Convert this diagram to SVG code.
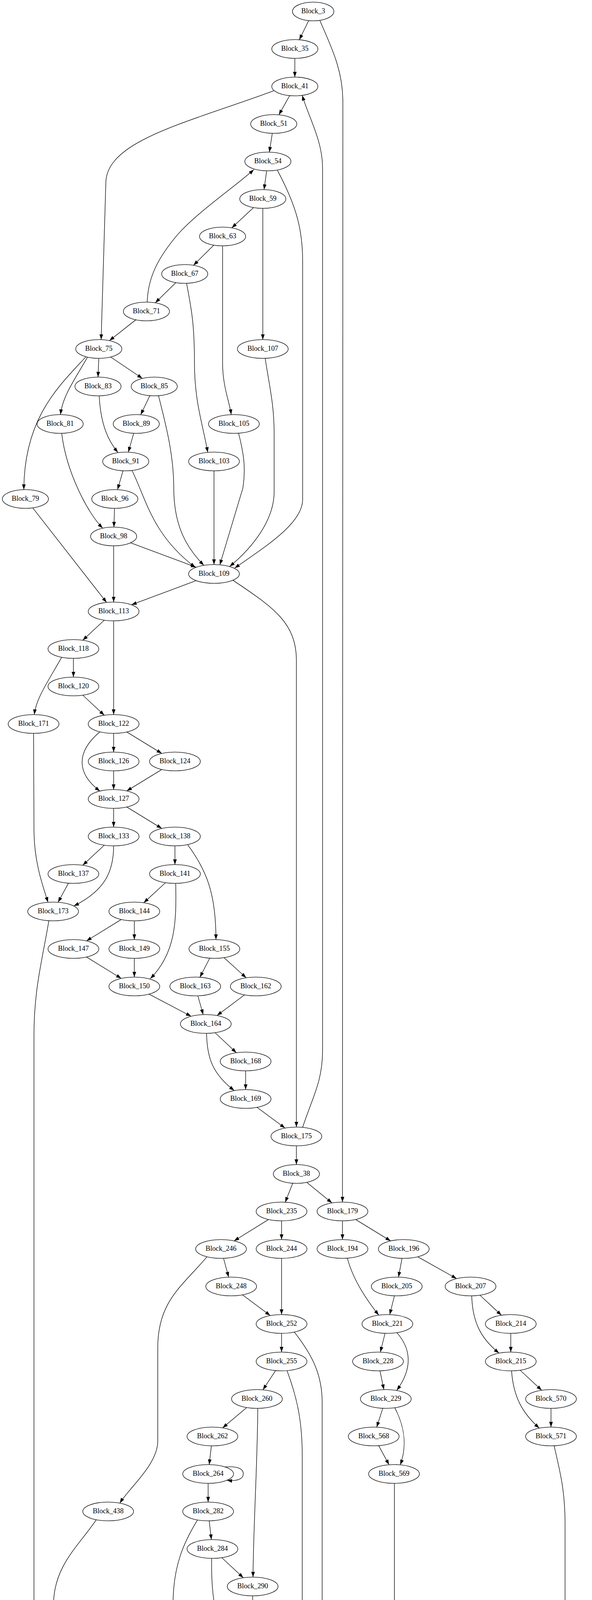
<svg xmlns="http://www.w3.org/2000/svg" width="1516" height="6809" viewBox="0 0 1516 6809">
<style>
.e path{fill:none;stroke:#000;stroke-width:1.33;marker-end:url(#ah)}
.n ellipse{fill:#fff;stroke:#000;stroke-width:1.33}
text{font-family:"Liberation Serif","Times New Roman",serif;font-size:18px;text-anchor:middle;fill:#000}
</style>
<defs>
<marker id="ah" markerUnits="userSpaceOnUse" markerWidth="14" markerHeight="10" refX="13.3" refY="4.67" orient="auto"><path d="M0,0 L13.3,4.67 L0,9.33 z" fill="#000"/></marker>
</defs>
<rect width="1516" height="6809" fill="#fff"/>
<g transform="translate(0,29.33)">
<g id="edges" class="e">
<path d="M790.5,23.4 L766.5,72.5"/>
<path d="M819,23 C848,90 878,150 878,230 L877,3048"/>
<path d="M755,120 L755,168"/>
<path d="M741.8,215.4 L714.2,264.6"/>
<path d="M701,203 C480,285 271,330 271,440 L259,840"/>
<path d="M697.3,312 L689.7,360"/>
<path d="M682.8,408 L676.2,456"/>
<path d="M710.6,407 C760,500 775,560 775,640 L775,1250 C775,1310 680,1370 601,1425"/>
<path d="M649.4,502 L593.6,554"/>
<path d="M673,504 L673,840"/>
<path d="M547.6,598.2 L495.4,649.8"/>
<path d="M570,600 L570,900 C570,960 588,1000 592,1032"/>
<path d="M450.4,694.2 L397.6,745.8"/>
<path d="M477.6,695 C490,760 498,800 498,900 C498,1000 520,1060 532,1128.7"/>
<path d="M377,744 C379,680 405,630 455,571 C510,510 600,450 650,405"/>
<path d="M347.9,789.3 L280.1,842.7"/>
<path d="M253,888 L251,936"/>
<path d="M283.4,884.6 L364.6,939.4"/>
<path d="M224,885 C190,945 160,985 155,1032"/>
<path d="M220,884 C150,960 62,1040 61,1224"/>
<path d="M254,984 C258,1060 278,1100 302,1129"/>
<path d="M383.7,983.6 L360.3,1032.4"/>
<path d="M406,984 C428,1070 445,1140 445,1220 C445,1320 480,1375 522,1418"/>
<path d="M342.3,1080 L328.7,1128"/>
<path d="M158,1080 C170,1180 225,1285 263,1322.7"/>
<path d="M315,1176 L301,1224"/>
<path d="M338,1175 C375,1250 390,1340 500,1423"/>
<path d="M548,1176 L548,1416"/>
<path d="M611,1080 C624,1130 630,1170 622,1220 L563,1416.6"/>
<path d="M679,888 C692,970 702,1010 702,1080 L702,1230 C702,1300 650,1370 588,1421"/>
<path d="M84,1271 L273,1513"/>
<path d="M293.3,1272 L291.7,1320"/>
<path d="M334.5,1360.2 L502.3,1422.9"/>
<path d="M291,1368 L291,1512"/>
<path d="M502.3,1457.1 L336.7,1518.9"/>
<path d="M596.5,1456 C690,1520 759,1560 759,1660 L759,2856"/>
<path d="M267.1,1558.3 L211.9,1609.7"/>
<path d="M291,1560 L291,1800"/>
<path d="M188,1656 L188,1704"/>
<path d="M158,1653.3 C120,1720 92,1760 88,1800"/>
<path d="M211.9,1750.3 L267.1,1801.7"/>
<path d="M291,1848 L291,1896"/>
<path d="M324.6,1844.5 L414.4,1899.5"/>
<path d="M256,1844 C195,1895 195,1950 256,1996"/>
<path d="M291,1944 L291,1992"/>
<path d="M414.4,1940.5 L324.6,1995.5"/>
<path d="M291,2040 L291,2088"/>
<path d="M324.6,2036.5 L414.4,2091.5"/>
<path d="M86,1848 L87,2100 C88,2180 110,2240 123,2280.5"/>
<path d="M267.1,2134.3 L211.9,2185.7"/>
<path d="M291,2136 C291,2200 270,2250 189,2290"/>
<path d="M448,2136 L448,2184"/>
<path d="M480.5,2133 C530,2200 553,2260 553,2376"/>
<path d="M175.3,2231.5 L148.7,2280.5"/>
<path d="M423.9,2230.3 L368.1,2281.7"/>
<path d="M450,2232 C452,2330 450,2410 385,2476"/>
<path d="M125,2328 C110,2420 87,2500 87,2620 L87,6330 C87,6440 180,6480 288,6514"/>
<path d="M310.6,2324.6 L221.4,2379.4"/>
<path d="M344,2328 L344,2376"/>
<path d="M221.4,2420.6 L310.6,2475.4"/>
<path d="M344,2424 L344,2472"/>
<path d="M537,2423.6 L512,2472.4"/>
<path d="M573.5,2422.2 L630.5,2473.8"/>
<path d="M381.4,2515.6 L489.6,2572.4"/>
<path d="M506.7,2520 L520.3,2568"/>
<path d="M626.3,2517.5 L555.7,2570.5"/>
<path d="M550.7,2614.3 L605.3,2665.7"/>
<path d="M529,2616 C530,2680 545,2720 600,2762.6"/>
<path d="M629,2712 L629,2760"/>
<path d="M658.1,2805.5 L729.9,2858.5"/>
<path d="M759,2904 L759,2952"/>
<path d="M775,2856.7 C800,2780 826,2740 826,2660 L826,400 C826,330 790,270 774,214.8"/>
<path d="M749.6,2999.7 L730.4,3048.3"/>
<path d="M785.4,2997.5 L850.1,3050.1"/>
<path d="M687.7,3092.6 L599.3,3147.4"/>
<path d="M721,3096 L721,3144"/>
<path d="M877,3096 L877,3144"/>
<path d="M910.6,3092.5 L1000.4,3147.5"/>
<path d="M572.5,3192 L585.5,3240"/>
<path d="M530,3188 C470,3260 404,3300 404,3420 L404,3660 C404,3720 330,3780 307,3818.7"/>
<path d="M721,3192 L721,3336"/>
<path d="M889.5,3191.5 C905,3250 940,3300 970,3337.4"/>
<path d="M1029.5,3192 L1020.5,3240"/>
<path d="M1069.7,3188.1 L1169.3,3243.9"/>
<path d="M620.9,3285.5 L692.1,3338.5"/>
<path d="M1010,3288 L998,3336"/>
<path d="M1228.9,3286.3 L1284.1,3337.7"/>
<path d="M1208,3288 C1210,3360 1235,3400 1278,3434.7"/>
<path d="M721,3384 L721,3432"/>
<path d="M754,3381 C800,3440 825,3490 825,3560 L825,4120 C825,4200 790,4250 757,4297.4"/>
<path d="M705.7,3479.3 L673.3,3528.7"/>
<path d="M735,3479.4 C765,3560 774,3620 774,3700 L774,4200 C774,4240 760,4270 750,4296.6"/>
<path d="M986,3384 L974,3432"/>
<path d="M1016,3382 C1050,3420 1060,3470 1016,3530"/>
<path d="M1308,3384 L1308,3432"/>
<path d="M973,3480 L983,3528"/>
<path d="M1331.9,3478.3 L1387.1,3529.7"/>
<path d="M1310,3480 C1315,3550 1340,3590 1381,3626.7"/>
<path d="M631.9,3574 L570.1,3626"/>
<path d="M660,3576 C660,3700 648,3900 648,4008"/>
<path d="M980.3,3575.8 L964.7,3624.2"/>
<path d="M1011,3574.5 C1040,3630 1040,3680 1025,3720.7"/>
<path d="M1411,3576 L1411,3624"/>
<path d="M1419,3672 C1435,3740 1447,3790 1447,3870 L1447,6260 C1447,6330 1420,6370 1407,6408.6"/>
<path d="M541.3,3672 L535.7,3720"/>
<path d="M969.7,3671.5 L996.3,3720.5"/>
<path d="M576,3726 C603,3724 623,3728 623,3744 C623,3758 605,3763 581,3760.2"/>
<path d="M533,3768 L533,3816"/>
<path d="M1010,3768 L1010,4920 C1010,5200 984,5900 984,6170 L984,6300 C984,6440 880,6480 405,6522"/>
<path d="M246.5,3861.2 C200,3930 137,3980 137,4080 L137,6230 C137,6320 230,6380 292,6416.2"/>
<path d="M535.7,3864 L541.3,3912"/>
<path d="M505.6,3862 C470,3920 443,3980 443,4080 L443,4540 C443,4610 510,4650 559,4684"/>
<path d="M567.9,3958.3 L623.1,4009.7"/>
<path d="M542,3960 C540,4090 560,4140 600,4190 C640,4235 690,4270 711,4297.8"/>
<path d="M647,4056 L647,4104"/>
<path d="M690,4110 C717,4108 737,4112 737,4128 C737,4142 719,4147 695,4144.2"/>
<path d="M623.1,4150.3 L567.9,4201.7"/>
<path d="M582.5,4243.4 L696.5,4300.6"/>
<path d="M545,4248 L545,4520 C545,4600 565,4640 578,4681"/>
<path d="M719.9,4343.3 L688.1,4392.7"/>
<path d="M754,4343 C780,4400 790,4440 730,4494.3"/>
<path d="M716,4398 C743,4396 763,4400 763,4416 C763,4430 745,4435 721,4432.2"/>
<path d="M676.2,4440 L682.8,4488"/>
<path d="M688.7,4536 L694.3,4584"/>
<path d="M660,4534 C625,4600 600,4620 598,4680"/>
<path d="M740,4590 C767,4588 788,4592 788,4608 C788,4622 769,4627 745,4624.2"/>
<path d="M673.3,4630.3 L618.7,4681.7"/>
<path d="M595,4728 L595,4776"/>
<path d="M624,4725.5 C650,4760 720,4830 737,4872.5"/>
<path d="M595,4824 L595,4872"/>
<path d="M563,4821 C530,4870 500,4910 497,4968"/>
<path d="M571.7,4918.4 L518.3,4969.6"/>
<path d="M628.3,4916.6 L716.7,4971.4"/>
<path d="M750,4920 L750,4968"/>
<path d="M461.9,5012.6 L374.1,5067.4"/>
<path d="M495,5016 L497,5064"/>
<path d="M750,5016 L750,5064"/>
<path d="M783.4,5012.6 L872.6,5067.4"/>
<path d="M341,5112 L341,5256"/>
<path d="M484,5111.5 L457,5160.5"/>
<path d="M507.6,5111.7 C520,5160 535,5200 541,5256.3"/>
<path d="M756,5112 C762,5170 775,5210 793,5256.4"/>
<path d="M893.5,5111.5 L867.5,5160.5"/>
<path d="M918.5,5111.6 C935,5180 940,5240 938,5290 C936,5360 920,5410 914,5448.2"/>
<path d="M420.1,5206.3 L364.9,5257.7"/>
<path d="M842.5,5207.5 L816.5,5256.5"/>
<path d="M317.3,5302.3 L262.7,5353.7"/>
<path d="M341,5304 L341,5448"/>
<path d="M364.9,5302.3 L420.1,5353.7"/>
<path d="M548,5304 L548,5990 C548,6060 520,6100 483,6125"/>
<path d="M770.7,5300.6 L682.3,5355.4"/>
<path d="M804,5304 L804,5352"/>
<path d="M839,5300.2 C900,5360 900,5420 806,5459.8"/>
<path d="M262.7,5398.3 L317.3,5449.7"/>
<path d="M420.1,5398.3 L364.9,5449.7"/>
<path d="M672.5,5398.3 L726.5,5449.7"/>
<path d="M790.8,5399.4 L763.2,5448.6"/>
<path d="M328,5495.5 L301,5544.5"/>
<path d="M364.9,5494.3 L420.1,5545.7"/>
<path d="M726.5,5494.3 L672.5,5545.7"/>
<path d="M763.2,5495.4 L790.8,5544.6"/>
<path d="M907,5496 L907,5930 C907,6020 820,6080 759,6127"/>
<path d="M298,5591.7 L360,5736.8"/>
<path d="M437.3,5592 L423.7,5640"/>
<path d="M503,5578.2 C700,5605 900,5630 1025,5657"/>
<path d="M660,5591.7 L715.5,5736.4"/>
<path d="M800.8,5592 L794.2,5640"/>
<path d="M865,5576.3 C960,5595 1100,5620 1189,5650"/>
<path d="M406.9,5687.7 L386.1,5736.3"/>
<path d="M775.7,5687.3 L743.3,5736.7"/>
<path d="M1099.3,5687.6 L1124.7,5736.4"/>
<path d="M1073,5687.5 C1055,5740 1055,5790 1103,5835.5"/>
<path d="M1265.5,5686.3 L1319.5,5737.7"/>
<path d="M1245,5688 C1248,5760 1265,5800 1296,5833.6"/>
<path d="M390.8,5783.4 L422.2,5832.6"/>
<path d="M365.5,5783.7 C352,5840 355,5890 401,5930.7"/>
<path d="M740.3,5783.6 L765.7,5832.4"/>
<path d="M715.5,5783.7 C703,5840 703,5880 711,5928.3"/>
<path d="M1137,5784 L1137,5832"/>
<path d="M1337,5784 L1325,5832"/>
<path d="M435.5,5880 L432.5,5928"/>
<path d="M763.9,5879.4 L734.1,5928.6"/>
<path d="M1137,5880 L1137,5928"/>
<path d="M1104,5876.7 C1070,5930 1060,5980 1093,6026.8"/>
<path d="M1325,5880 L1337,5928"/>
<path d="M1294,5878 C1265,5930 1262,5980 1271.4,6024.2"/>
<path d="M434.2,5976 L440.8,6024"/>
<path d="M403,5973.7 C365,6030 360,6080 411,6123.3"/>
<path d="M706.1,5975.4 L676.9,6024.6"/>
<path d="M730,5975.7 C745,6030 745,6080 728,6120.6"/>
<path d="M1133.5,5976 L1126.5,6024"/>
<path d="M1327.5,5975.3 L1294.5,6024.7"/>
<path d="M444,6072 L444,6120"/>
<path d="M675.3,6071.6 L700.7,6120.4"/>
<path d="M1154.5,6069 L1235.5,6123"/>
<path d="M1276,6072 L1270,6120"/>
<path d="M444,6168 L444,6216"/>
<path d="M666.3,6160.7 L490.7,6223.3"/>
<path d="M1285.2,6167 L1324.8,6217"/>
<path d="M1262,6167.5 C1252,6230 1262,6280 1310,6315.3"/>
<path d="M444,6264 L444,6312"/>
<path d="M413,6261 C375,6310 345,6350 343,6408"/>
<path d="M1343,6264 L1343,6312"/>
<path d="M420.1,6358.3 L364.9,6409.7"/>
<path d="M1355.3,6359.6 L1380.7,6408.4"/>
<path d="M341,6456 L341,6504"/>
<path d="M1405.5,6455.5 L1431.5,6504.5"/>
<path d="M1383,6455.7 C1362,6510 1365,6560 1381,6600.4"/>
<path d="M353.7,6551.5 L380.3,6600.5"/>
<path d="M331,6551.7 C315,6600 315,6650 331,6696.3"/>
<path d="M1431.3,6551.5 L1404.7,6600.5"/>
<path d="M380.3,6647.5 L353.7,6696.5"/>
</g>
<g class="n">
<g id="Block_3"><ellipse cx="802" cy="0" rx="53" ry="24"/><text x="802" y="5">Block_3</text></g>
<g id="Block_35"><ellipse cx="755" cy="96" rx="59" ry="24"/><text x="755" y="101">Block_35</text></g>
<g id="Block_41"><ellipse cx="755" cy="192" rx="59" ry="24"/><text x="755" y="197">Block_41</text></g>
<g id="Block_51"><ellipse cx="701" cy="288" rx="59" ry="24"/><text x="701" y="293">Block_51</text></g>
<g id="Block_54"><ellipse cx="686" cy="384" rx="59" ry="24"/><text x="686" y="389">Block_54</text></g>
<g id="Block_59"><ellipse cx="673" cy="480" rx="59" ry="24"/><text x="673" y="485">Block_59</text></g>
<g id="Block_63"><ellipse cx="570" cy="576" rx="59" ry="24"/><text x="570" y="581">Block_63</text></g>
<g id="Block_67"><ellipse cx="473" cy="672" rx="59" ry="24"/><text x="473" y="677">Block_67</text></g>
<g id="Block_71"><ellipse cx="375" cy="768" rx="59" ry="24"/><text x="375" y="773">Block_71</text></g>
<g id="Block_75"><ellipse cx="253" cy="864" rx="59" ry="24"/><text x="253" y="869">Block_75</text></g>
<g id="Block_107"><ellipse cx="673" cy="864" rx="65" ry="24"/><text x="673" y="869">Block_107</text></g>
<g id="Block_83"><ellipse cx="251" cy="960" rx="59" ry="24"/><text x="251" y="965">Block_83</text></g>
<g id="Block_85"><ellipse cx="395" cy="960" rx="59" ry="24"/><text x="395" y="965">Block_85</text></g>
<g id="Block_81"><ellipse cx="154" cy="1056" rx="59" ry="24"/><text x="154" y="1061">Block_81</text></g>
<g id="Block_89"><ellipse cx="349" cy="1056" rx="59" ry="24"/><text x="349" y="1061">Block_89</text></g>
<g id="Block_105"><ellipse cx="599" cy="1056" rx="65" ry="24"/><text x="599" y="1061">Block_105</text></g>
<g id="Block_91"><ellipse cx="322" cy="1152" rx="59" ry="24"/><text x="322" y="1157">Block_91</text></g>
<g id="Block_103"><ellipse cx="548" cy="1152" rx="65" ry="24"/><text x="548" y="1157">Block_103</text></g>
<g id="Block_79"><ellipse cx="65" cy="1248" rx="59" ry="24"/><text x="65" y="1253">Block_79</text></g>
<g id="Block_96"><ellipse cx="294" cy="1248" rx="59" ry="24"/><text x="294" y="1253">Block_96</text></g>
<g id="Block_98"><ellipse cx="291" cy="1344" rx="59" ry="24"/><text x="291" y="1349">Block_98</text></g>
<g id="Block_109"><ellipse cx="548" cy="1440" rx="65" ry="24"/><text x="548" y="1445">Block_109</text></g>
<g id="Block_113"><ellipse cx="291" cy="1536" rx="65" ry="24"/><text x="291" y="1541">Block_113</text></g>
<g id="Block_118"><ellipse cx="188" cy="1632" rx="65" ry="24"/><text x="188" y="1637">Block_118</text></g>
<g id="Block_120"><ellipse cx="188" cy="1728" rx="65" ry="24"/><text x="188" y="1733">Block_120</text></g>
<g id="Block_171"><ellipse cx="86" cy="1824" rx="65" ry="24"/><text x="86" y="1829">Block_171</text></g>
<g id="Block_122"><ellipse cx="291" cy="1824" rx="65" ry="24"/><text x="291" y="1829">Block_122</text></g>
<g id="Block_126"><ellipse cx="291" cy="1920" rx="65" ry="24"/><text x="291" y="1925">Block_126</text></g>
<g id="Block_124"><ellipse cx="448" cy="1920" rx="65" ry="24"/><text x="448" y="1925">Block_124</text></g>
<g id="Block_127"><ellipse cx="291" cy="2016" rx="65" ry="24"/><text x="291" y="2021">Block_127</text></g>
<g id="Block_133"><ellipse cx="291" cy="2112" rx="65" ry="24"/><text x="291" y="2117">Block_133</text></g>
<g id="Block_138"><ellipse cx="448" cy="2112" rx="65" ry="24"/><text x="448" y="2117">Block_138</text></g>
<g id="Block_137"><ellipse cx="188" cy="2208" rx="65" ry="24"/><text x="188" y="2213">Block_137</text></g>
<g id="Block_141"><ellipse cx="448" cy="2208" rx="65" ry="24"/><text x="448" y="2213">Block_141</text></g>
<g id="Block_173"><ellipse cx="136" cy="2304" rx="65" ry="24"/><text x="136" y="2309">Block_173</text></g>
<g id="Block_144"><ellipse cx="344" cy="2304" rx="65" ry="24"/><text x="344" y="2309">Block_144</text></g>
<g id="Block_147"><ellipse cx="188" cy="2400" rx="65" ry="24"/><text x="188" y="2405">Block_147</text></g>
<g id="Block_149"><ellipse cx="344" cy="2400" rx="65" ry="24"/><text x="344" y="2405">Block_149</text></g>
<g id="Block_155"><ellipse cx="549" cy="2400" rx="65" ry="24"/><text x="549" y="2405">Block_155</text></g>
<g id="Block_150"><ellipse cx="344" cy="2496" rx="65" ry="24"/><text x="344" y="2501">Block_150</text></g>
<g id="Block_163"><ellipse cx="500" cy="2496" rx="65" ry="24"/><text x="500" y="2501">Block_163</text></g>
<g id="Block_162"><ellipse cx="655" cy="2496" rx="65" ry="24"/><text x="655" y="2501">Block_162</text></g>
<g id="Block_164"><ellipse cx="527" cy="2592" rx="65" ry="24"/><text x="527" y="2597">Block_164</text></g>
<g id="Block_168"><ellipse cx="629" cy="2688" rx="65" ry="24"/><text x="629" y="2693">Block_168</text></g>
<g id="Block_169"><ellipse cx="629" cy="2784" rx="65" ry="24"/><text x="629" y="2789">Block_169</text></g>
<g id="Block_175"><ellipse cx="759" cy="2880" rx="65" ry="24"/><text x="759" y="2885">Block_175</text></g>
<g id="Block_38"><ellipse cx="759" cy="2976" rx="59" ry="24"/><text x="759" y="2981">Block_38</text></g>
<g id="Block_235"><ellipse cx="721" cy="3072" rx="65" ry="24"/><text x="721" y="3077">Block_235</text></g>
<g id="Block_179"><ellipse cx="877" cy="3072" rx="65" ry="24"/><text x="877" y="3077">Block_179</text></g>
<g id="Block_246"><ellipse cx="566" cy="3168" rx="65" ry="24"/><text x="566" y="3173">Block_246</text></g>
<g id="Block_244"><ellipse cx="721" cy="3168" rx="65" ry="24"/><text x="721" y="3173">Block_244</text></g>
<g id="Block_194"><ellipse cx="877" cy="3168" rx="65" ry="24"/><text x="877" y="3173">Block_194</text></g>
<g id="Block_196"><ellipse cx="1034" cy="3168" rx="65" ry="24"/><text x="1034" y="3173">Block_196</text></g>
<g id="Block_248"><ellipse cx="592" cy="3264" rx="65" ry="24"/><text x="592" y="3269">Block_248</text></g>
<g id="Block_205"><ellipse cx="1016" cy="3264" rx="65" ry="24"/><text x="1016" y="3269">Block_205</text></g>
<g id="Block_207"><ellipse cx="1205" cy="3264" rx="65" ry="24"/><text x="1205" y="3269">Block_207</text></g>
<g id="Block_252"><ellipse cx="721" cy="3360" rx="65" ry="24"/><text x="721" y="3365">Block_252</text></g>
<g id="Block_221"><ellipse cx="992" cy="3360" rx="65" ry="24"/><text x="992" y="3365">Block_221</text></g>
<g id="Block_214"><ellipse cx="1308" cy="3360" rx="65" ry="24"/><text x="1308" y="3365">Block_214</text></g>
<g id="Block_255"><ellipse cx="721" cy="3456" rx="65" ry="24"/><text x="721" y="3461">Block_255</text></g>
<g id="Block_228"><ellipse cx="968" cy="3456" rx="65" ry="24"/><text x="968" y="3461">Block_228</text></g>
<g id="Block_215"><ellipse cx="1308" cy="3456" rx="65" ry="24"/><text x="1308" y="3461">Block_215</text></g>
<g id="Block_260"><ellipse cx="658" cy="3552" rx="65" ry="24"/><text x="658" y="3557">Block_260</text></g>
<g id="Block_229"><ellipse cx="988" cy="3552" rx="65" ry="24"/><text x="988" y="3557">Block_229</text></g>
<g id="Block_570"><ellipse cx="1411" cy="3552" rx="65" ry="24"/><text x="1411" y="3557">Block_570</text></g>
<g id="Block_262"><ellipse cx="544" cy="3648" rx="65" ry="24"/><text x="544" y="3653">Block_262</text></g>
<g id="Block_568"><ellipse cx="957" cy="3648" rx="65" ry="24"/><text x="957" y="3653">Block_568</text></g>
<g id="Block_571"><ellipse cx="1411" cy="3648" rx="65" ry="24"/><text x="1411" y="3653">Block_571</text></g>
<g id="Block_264"><ellipse cx="533" cy="3744" rx="65" ry="24"/><text x="533" y="3749">Block_264</text></g>
<g id="Block_569"><ellipse cx="1009" cy="3744" rx="65" ry="24"/><text x="1009" y="3749">Block_569</text></g>
<g id="Block_438"><ellipse cx="277" cy="3840" rx="65" ry="24"/><text x="277" y="3845">Block_438</text></g>
<g id="Block_282"><ellipse cx="533" cy="3840" rx="65" ry="24"/><text x="533" y="3845">Block_282</text></g>
<g id="Block_284"><ellipse cx="544" cy="3936" rx="65" ry="24"/><text x="544" y="3941">Block_284</text></g>
<g id="Block_290"><ellipse cx="647" cy="4032" rx="65" ry="24"/><text x="647" y="4037">Block_290</text></g>
<g id="Block_296"><ellipse cx="647" cy="4128" rx="65" ry="24"/><text x="647" y="4133">Block_296</text></g>
<g id="Block_307"><ellipse cx="544" cy="4224" rx="65" ry="24"/><text x="544" y="4229">Block_307</text></g>
<g id="Block_309"><ellipse cx="735" cy="4320" rx="65" ry="24"/><text x="735" y="4325">Block_309</text></g>
<g id="Block_318"><ellipse cx="673" cy="4416" rx="65" ry="24"/><text x="673" y="4421">Block_318</text></g>
<g id="Block_327"><ellipse cx="686" cy="4512" rx="65" ry="24"/><text x="686" y="4517">Block_327</text></g>
<g id="Block_331"><ellipse cx="697" cy="4608" rx="65" ry="24"/><text x="697" y="4613">Block_331</text></g>
<g id="Block_359"><ellipse cx="595" cy="4704" rx="65" ry="24"/><text x="595" y="4709">Block_359</text></g>
<g id="Block_370"><ellipse cx="595" cy="4800" rx="65" ry="24"/><text x="595" y="4805">Block_370</text></g>
<g id="Block_373"><ellipse cx="595" cy="4896" rx="65" ry="24"/><text x="595" y="4901">Block_373</text></g>
<g id="Block_368"><ellipse cx="750" cy="4896" rx="65" ry="24"/><text x="750" y="4901">Block_368</text></g>
<g id="Block_377"><ellipse cx="495" cy="4992" rx="65" ry="24"/><text x="495" y="4997">Block_377</text></g>
<g id="Block_458"><ellipse cx="750" cy="4992" rx="65" ry="24"/><text x="750" y="4997">Block_458</text></g>
<g id="Block_384"><ellipse cx="341" cy="5088" rx="65" ry="24"/><text x="341" y="5093">Block_384</text></g>
<g id="Block_386"><ellipse cx="497" cy="5088" rx="65" ry="24"/><text x="497" y="5093">Block_386</text></g>
<g id="Block_466"><ellipse cx="750" cy="5088" rx="65" ry="24"/><text x="750" y="5093">Block_466</text></g>
<g id="Block_468"><ellipse cx="906" cy="5088" rx="65" ry="24"/><text x="906" y="5093">Block_468</text></g>
<g id="Block_388"><ellipse cx="444" cy="5184" rx="65" ry="24"/><text x="444" y="5189">Block_388</text></g>
<g id="Block_470"><ellipse cx="855" cy="5184" rx="65" ry="24"/><text x="855" y="5189">Block_470</text></g>
<g id="Block_392"><ellipse cx="341" cy="5280" rx="65" ry="24"/><text x="341" y="5285">Block_392</text></g>
<g id="Block_440"><ellipse cx="547" cy="5280" rx="65" ry="24"/><text x="547" y="5285">Block_440</text></g>
<g id="Block_474"><ellipse cx="804" cy="5280" rx="65" ry="24"/><text x="804" y="5285">Block_474</text></g>
<g id="Block_394"><ellipse cx="239" cy="5376" rx="65" ry="24"/><text x="239" y="5381">Block_394</text></g>
<g id="Block_396"><ellipse cx="444" cy="5376" rx="65" ry="24"/><text x="444" y="5381">Block_396</text></g>
<g id="Block_478"><ellipse cx="649" cy="5376" rx="65" ry="24"/><text x="649" y="5381">Block_478</text></g>
<g id="Block_476"><ellipse cx="804" cy="5376" rx="65" ry="24"/><text x="804" y="5381">Block_476</text></g>
<g id="Block_397"><ellipse cx="341" cy="5472" rx="65" ry="24"/><text x="341" y="5477">Block_397</text></g>
<g id="Block_479"><ellipse cx="750" cy="5472" rx="65" ry="24"/><text x="750" y="5477">Block_479</text></g>
<g id="Block_519"><ellipse cx="906" cy="5472" rx="65" ry="24"/><text x="906" y="5477">Block_519</text></g>
<g id="Block_412"><ellipse cx="288" cy="5568" rx="65" ry="24"/><text x="288" y="5573">Block_412</text></g>
<g id="Block_414"><ellipse cx="444" cy="5568" rx="65" ry="24"/><text x="444" y="5573">Block_414</text></g>
<g id="Block_493"><ellipse cx="649" cy="5568" rx="65" ry="24"/><text x="649" y="5573">Block_493</text></g>
<g id="Block_495"><ellipse cx="804" cy="5568" rx="65" ry="24"/><text x="804" y="5573">Block_495</text></g>
<g id="Block_422"><ellipse cx="417" cy="5664" rx="65" ry="24"/><text x="417" y="5669">Block_422</text></g>
<g id="Block_503"><ellipse cx="791" cy="5664" rx="65" ry="24"/><text x="791" y="5669">Block_503</text></g>
<g id="Block_424"><ellipse cx="1087" cy="5664" rx="65" ry="24"/><text x="1087" y="5669">Block_424</text></g>
<g id="Block_505"><ellipse cx="1242" cy="5664" rx="65" ry="24"/><text x="1242" y="5669">Block_505</text></g>
<g id="Block_442"><ellipse cx="376" cy="5760" rx="65" ry="24"/><text x="376" y="5765">Block_442</text></g>
<g id="Block_521"><ellipse cx="728" cy="5760" rx="65" ry="24"/><text x="728" y="5765">Block_521</text></g>
<g id="Block_431"><ellipse cx="1137" cy="5760" rx="65" ry="24"/><text x="1137" y="5765">Block_431</text></g>
<g id="Block_512"><ellipse cx="1343" cy="5760" rx="65" ry="24"/><text x="1343" y="5765">Block_512</text></g>
<g id="Block_449"><ellipse cx="437" cy="5856" rx="65" ry="24"/><text x="437" y="5861">Block_449</text></g>
<g id="Block_528"><ellipse cx="778" cy="5856" rx="65" ry="24"/><text x="778" y="5861">Block_528</text></g>
<g id="Block_432"><ellipse cx="1137" cy="5856" rx="65" ry="24"/><text x="1137" y="5861">Block_432</text></g>
<g id="Block_513"><ellipse cx="1319" cy="5856" rx="65" ry="24"/><text x="1319" y="5861">Block_513</text></g>
<g id="Block_450"><ellipse cx="431" cy="5952" rx="65" ry="24"/><text x="431" y="5957">Block_450</text></g>
<g id="Block_529"><ellipse cx="720" cy="5952" rx="65" ry="24"/><text x="720" y="5957">Block_529</text></g>
<g id="Block_566"><ellipse cx="1137" cy="5952" rx="65" ry="24"/><text x="1137" y="5957">Block_566</text></g>
<g id="Block_563"><ellipse cx="1343" cy="5952" rx="65" ry="24"/><text x="1343" y="5957">Block_563</text></g>
<g id="Block_565"><ellipse cx="444" cy="6048" rx="65" ry="24"/><text x="444" y="6053">Block_565</text></g>
<g id="Block_562"><ellipse cx="663" cy="6048" rx="65" ry="24"/><text x="663" y="6053">Block_562</text></g>
<g id="Block_567"><ellipse cx="1123" cy="6048" rx="65" ry="24"/><text x="1123" y="6053">Block_567</text></g>
<g id="Block_564"><ellipse cx="1279" cy="6048" rx="65" ry="24"/><text x="1279" y="6053">Block_564</text></g>
<g id="Block_456"><ellipse cx="444" cy="6144" rx="65" ry="24"/><text x="444" y="6149">Block_456</text></g>
<g id="Block_535"><ellipse cx="713" cy="6144" rx="65" ry="24"/><text x="713" y="6149">Block_535</text></g>
<g id="Block_537"><ellipse cx="1267" cy="6144" rx="65" ry="24"/><text x="1267" y="6149">Block_537</text></g>
<g id="Block_543"><ellipse cx="444" cy="6240" rx="65" ry="24"/><text x="444" y="6245">Block_543</text></g>
<g id="Block_541"><ellipse cx="1343" cy="6240" rx="65" ry="24"/><text x="1343" y="6245">Block_541</text></g>
<g id="Block_548"><ellipse cx="444" cy="6336" rx="65" ry="24"/><text x="444" y="6341">Block_548</text></g>
<g id="Block_542"><ellipse cx="1343" cy="6336" rx="65" ry="24"/><text x="1343" y="6341">Block_542</text></g>
<g id="Block_549"><ellipse cx="341" cy="6432" rx="65" ry="24"/><text x="341" y="6437">Block_549</text></g>
<g id="Block_551"><ellipse cx="1393" cy="6432" rx="65" ry="24"/><text x="1393" y="6437">Block_551</text></g>
<g id="Block_556"><ellipse cx="341" cy="6528" rx="65" ry="24"/><text x="341" y="6533">Block_556</text></g>
<g id="Block_554"><ellipse cx="1444" cy="6528" rx="65" ry="24"/><text x="1444" y="6533">Block_554</text></g>
<g id="Block_560"><ellipse cx="393" cy="6624" rx="65" ry="24"/><text x="393" y="6629">Block_560</text></g>
<g id="Block_555"><ellipse cx="1392" cy="6624" rx="65" ry="24"/><text x="1392" y="6629">Block_555</text></g>
<g id="Block_561"><ellipse cx="341" cy="6720" rx="65" ry="24"/><text x="341" y="6725">Block_561</text></g>
</g>
</g>
<text id="title" x="758" y="6794">CFG for '_Z14reverse_deleteNSt7__cxx1112basic_stringIcSt11char_traitsIcESaIcEEES4_' function</text>
</svg>
